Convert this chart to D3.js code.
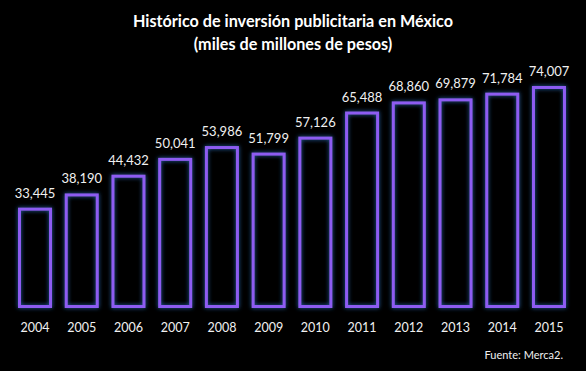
<!DOCTYPE html>
<html>
<head>
<meta charset="utf-8">
<script src="https://cdn.jsdelivr.net/npm/d3@7"></script>
<style>
  html, body { margin: 0; padding: 0; background: #000; }
  svg { display: block; }
</style>
</head>
<body>
<div id="chart"></div>
<script>
// datos
var years = ["2004", "2005", "2006", "2007", "2008", "2009", "2010", "2011", "2012", "2013", "2014", "2015"];
var values = [33445, 38190, 44432, 50041, 53986, 51799, 57126, 65488, 68860, 69879, 71784, 74007];
var titleLines = ["Histórico de inversión publicitaria en México", "(miles de millones de pesos)"];
var source = "Fuente: Merca2.";

var width = 586, height = 371;
var margin = {top: 68, right: 6, bottom: 63, left: 4};

var svg = d3.select("#chart").append("svg")
    .attr("width", width)
    .attr("height", height)
    .style("background", "#000");

// glow
var defs = svg.append("defs");
var glow = defs.append("filter").attr("id", "glow")
    .attr("x", "-30%").attr("y", "-30%").attr("width", "160%").attr("height", "160%");
glow.append("feGaussianBlur").attr("in", "SourceAlpha").attr("stdDeviation", 2.2).attr("result", "blur");
glow.append("feFlood").attr("flood-color", "#2f7fd8").attr("flood-opacity", 0.8);
glow.append("feComposite").attr("in2", "blur").attr("operator", "in").attr("result", "glowCol");
var merge = glow.append("feMerge");
merge.append("feMergeNode").attr("in", "glowCol");
merge.append("feMergeNode").attr("in", "SourceGraphic");

var x = d3.scaleBand()
    .domain(years)
    .range([margin.left, width - margin.right])
    .paddingInner(0.272)
    .paddingOuter(0.3);

var y = d3.scaleLinear()
    .domain([0, 80000])
    .range([height - margin.bottom, height - margin.bottom - 240]);

// titulo
svg.append("g").selectAll("text")
    .data(titleLines)
    .enter().append("text")
    .attr("x", width / 2)
    .attr("y", function (d, i) { return 27 + i * 22.5; })
    .attr("text-anchor", "middle")
    .attr("fill", "#fff")
    .attr("font-family", "Lato, 'Open Sans', sans-serif")
    .attr("font-weight", "bold")
    .attr("font-size", 16.2)
    .text(function (d) { return d; });

// barras
svg.append("g").selectAll("rect")
    .data(values)
    .enter().append("rect")
    .attr("x", function (d, i) { return x(years[i]) + 1.5; })
    .attr("y", function (d) { return y(d) + 1.5; })
    .attr("width", x.bandwidth() - 3)
    .attr("height", function (d) { return y(0) - y(d) - 3; })
    .attr("fill", "none")
    .attr("stroke", "#8d5cf2")
    .attr("stroke-width", 3)
    .attr("filter", "url(#glow)");

// etiquetas de valor
var fmt = d3.format(",");
svg.append("g").selectAll("text")
    .data(values)
    .enter().append("text")
    .attr("x", function (d, i) { return x(years[i]) + x.bandwidth() / 2; })
    .attr("y", function (d) { return y(d) - 10; })
    .attr("text-anchor", "middle")
    .attr("fill", "#f0f0f0")
    .attr("font-family", "Lato, 'Open Sans', sans-serif")
    .attr("font-size", 13)
    .text(function (d) { return fmt(d); });

// eje x
var xAxis = svg.append("g")
    .attr("transform", "translate(0," + y(0) + ")")
    .call(d3.axisBottom(x).tickSize(0).tickPadding(15));
xAxis.select(".domain").remove();
xAxis.selectAll("text")
    .attr("fill", "#f0f0f0")
    .attr("font-family", "Lato, 'Open Sans', sans-serif")
    .attr("font-size", 12.5);

// fuente
svg.append("text")
    .attr("x", 563)
    .attr("y", 359)
    .attr("text-anchor", "end")
    .attr("fill", "#f0f0f0")
    .attr("font-family", "Lato, 'Open Sans', sans-serif")
    .attr("font-size", 11)
    .text(source);
</script>
</body>
</html>
